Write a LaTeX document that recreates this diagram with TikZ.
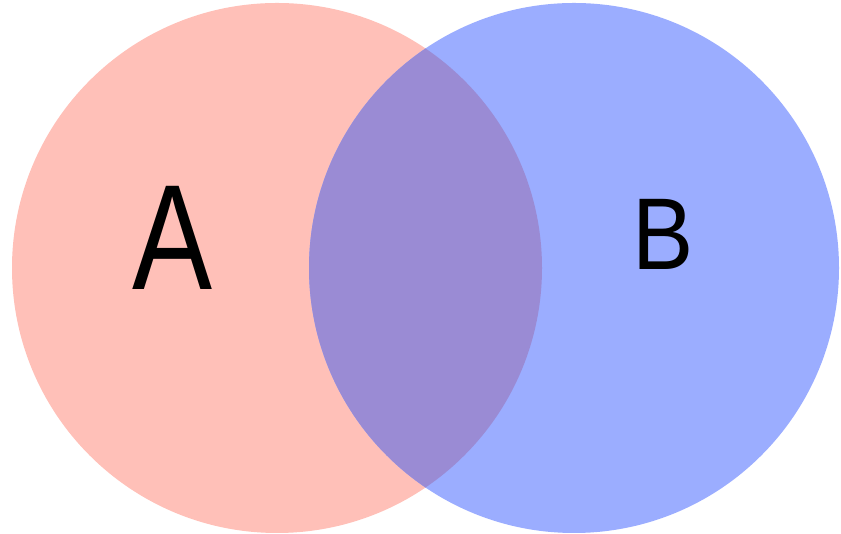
\documentclass[tikz,border=0pt]{standalone}
\usepackage{fontspec}
\setmainfont{Liberation Sans}
\definecolor{setA}{HTML}{FFC0B8}
\definecolor{setB}{HTML}{9BADFF}
\definecolor{setAB}{HTML}{9A8BD4}
\begin{document}
\begin{tikzpicture}[x=1pt,y=1pt,
  letterA/.style={font=\fontsize{150}{150}\selectfont, inner sep=0pt, anchor=base, xscale=0.8},
  letterB/.style={font=\fontsize{102}{102}\selectfont, inner sep=0pt, anchor=base, xscale=0.9}]
\useasboundingbox (0,0) rectangle (841,534);
\fill[white] (0,0) rectangle (841,534);
\coordinate (cA) at (277,266);
\coordinate (cB) at (574,266);
\fill[setA] (cA) circle[radius=265];
\fill[setB] (cB) circle[radius=265];
\begin{scope}
  \clip (cA) circle[radius=265];
  \fill[setAB] (cB) circle[radius=265];
\end{scope}
\node[letterA] (la) at (173,244) {A};
\node[letterB] (lb) at (663,264) {B};
\end{tikzpicture}
\end{document}
